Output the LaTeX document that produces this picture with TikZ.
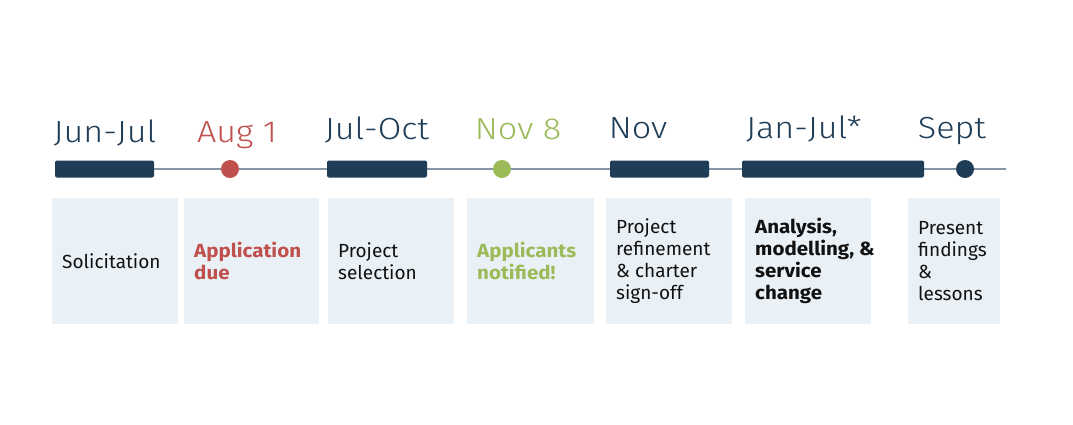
\documentclass[tikz,border=0pt]{standalone}
\usepackage{fontspec}
\setmainfont{Fira Sans}[BoldFeatures={FakeStretch=1.08}]
\newfontfamily\datefont{Fira Sans Light}[FakeStretch=1.12]
\definecolor{navy}{HTML}{1F3D57}
\definecolor{duered}{HTML}{C0504D}
\definecolor{okgreen}{HTML}{9BBB59}
\definecolor{panel}{HTML}{EAF1F6}
\definecolor{axis}{HTML}{8496A6}
\definecolor{ink}{HTML}{111111}
\tikzset{
  panelbox/.style={fill=panel, draw=none, inner sep=0pt, anchor=north west},
  bar/.style={fill=navy, draw=none, rounded corners=2pt, inner sep=0pt, minimum height=17pt},
  milestone/.style={circle, draw=none, inner sep=0pt, minimum size=18pt},
  datelabel/.style={font=\datefont\fontsize{30.5}{32}\selectfont, anchor=base, inner sep=0pt, text=navy},
  boxtext/.style={font=\fontsize{19}{22}\selectfont, align=left, anchor=west, inner sep=0pt, text=ink},
  boldtext/.style={boxtext, font=\bfseries\fontsize{19}{22}\selectfont}
}
\begin{document}
\begin{tikzpicture}[x=1pt,y=-1pt]
\useasboundingbox[fill=white] (0,0) rectangle (1073,424);

% timeline axis
\coordinate (axisstart) at (55,169);
\coordinate (axisend) at (1006,169);
\draw[axis, line width=1.3pt] (axisstart) -- (axisend);

% phase bars and milestone dots
\node[bar, minimum width=99pt] (bar1) at (104.5,169) {};
\node[milestone, fill=duered] (dot1) at (230,169) {};
\node[bar, minimum width=100pt] (bar2) at (377,169) {};
\node[milestone, fill=okgreen] (dot2) at (502,169) {};
\node[bar, minimum width=99pt] (bar3) at (659.5,169) {};
\node[bar, minimum width=182pt] (bar4) at (833,169) {};
\node[milestone, fill=navy] (dot3) at (965,169) {};

% date labels
\node[datelabel] (d1) at (105,142) {Jun-Jul};
\node[datelabel, text=duered] (d2) at (237,142) {Aug 1};
\node[datelabel] (d3) at (377,139) {Jul-Oct};
\node[datelabel, text=okgreen] (d4) at (518,139) {Nov 8};
\node[datelabel] (d5) at (638,138) {Nov};
\node[datelabel] (d6) at (804,138) {Jan-Jul*};
\node[datelabel] (d7) at (952,138) {Sept};

% description panels
\node[panelbox, minimum width=126pt, minimum height=126pt] (b1) at (52,198) {};
\node[panelbox, minimum width=135pt, minimum height=126pt] (b2) at (184,198) {};
\node[panelbox, minimum width=126pt, minimum height=126pt] (b3) at (328,198) {};
\node[panelbox, minimum width=127pt, minimum height=126pt] (b4) at (467,198) {};
\node[panelbox, minimum width=126pt, minimum height=126pt] (b5) at (606,198) {};
\node[panelbox, minimum width=126pt, minimum height=126pt] (b6) at (745,198) {};
\node[panelbox, minimum width=92pt, minimum height=126pt] (b7) at (908,198) {};

% panel texts
\node[boxtext] (t1) at ([xshift=10pt]b1.west) {Solicitation};
\node[boldtext, text=duered] (t2) at ([xshift=10pt]b2.west) {Application\\due};
\node[boxtext] (t3) at ([xshift=10pt]b3.west) {Project\\selection};
\node[boldtext, text=okgreen] (t4) at ([xshift=10pt]b4.west) {Applicants\\notified!};
\node[boxtext] (t5) at ([xshift=10pt]b5.west) {Project\\refinement\\\& charter\\sign-off};
\node[boldtext] (t6) at ([xshift=10pt]b6.west) {Analysis,\\modelling, \&\\service\\change};
\node[boxtext] (t7) at ([xshift=10pt]b7.west) {Present\\findings\\\&\\lessons};
\end{tikzpicture}
\end{document}
